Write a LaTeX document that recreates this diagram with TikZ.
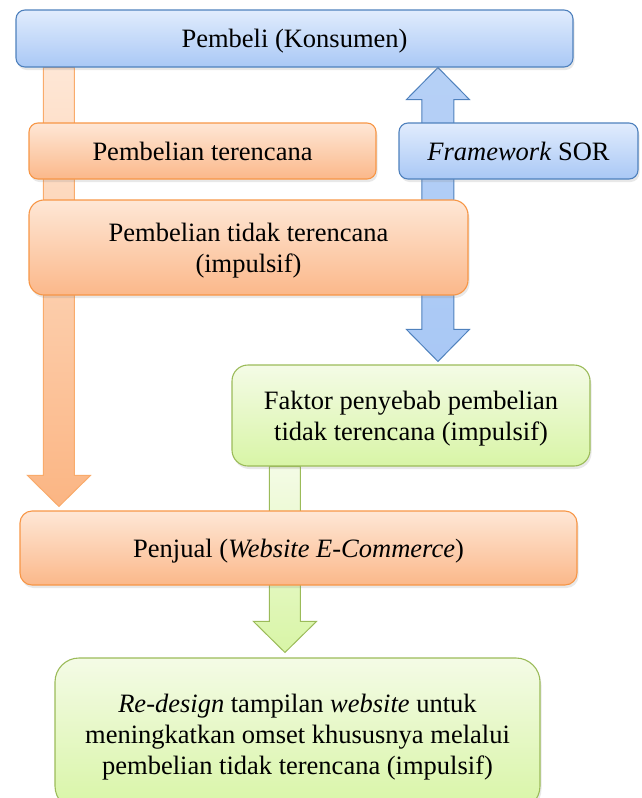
\documentclass[tikz,border=0pt]{standalone}
\usepackage{fontspec}
\setmainfont{Liberation Serif}
\usepackage{xcolor}
\definecolor{BlueTop}{HTML}{E1ECFD}
\definecolor{BlueBot}{HTML}{A9C8F5}
\definecolor{BlueLine}{HTML}{4F81BD}
\definecolor{OrangeTop}{HTML}{FEE7D6}
\definecolor{OrangeBot}{HTML}{FBB88A}
\definecolor{OrangeLine}{HTML}{F79646}
\definecolor{GreenTop}{HTML}{F4FBE6}
\definecolor{GreenBot}{HTML}{D8F5A6}
\definecolor{GreenLine}{HTML}{9BBB59}
\usepackage{tikz}
\usetikzlibrary{calc, shadows, backgrounds}
% block arrow pointing down: style, start, tip
\newcommand{\blockdown}[3]{%
  \path[#1] ($(#2)+(-15.5,0)$) -- ($(#3)+(-15.5,31)$) -- ($(#3)+(-31.5,31)$) -- (#3)
    -- ($(#3)+(31.5,31)$) -- ($(#3)+(15.5,31)$) -- ($(#2)+(15.5,0)$) -- cycle;}

\begin{document}
\begin{tikzpicture}[
    x=1pt, y=1pt,
    box/.style={rounded corners=#1, align=center, line width=1.1pt, text depth=0pt,
      font=\fontsize{26.5}{31}\selectfont,
      drop shadow={opacity=0.18, shadow xshift=1.5pt, shadow yshift=-3pt}},
    bluebox/.style={box=#1, draw=BlueLine, top color=BlueTop, bottom color=BlueBot},
    orangebox/.style={box=#1, draw=OrangeLine, top color=OrangeTop, bottom color=OrangeBot},
    greenbox/.style={box=#1, draw=GreenLine, top color=GreenTop, bottom color=GreenBot},
    orangearr/.style={draw=OrangeLine!80, line width=1pt, top color=OrangeTop, bottom color=OrangeBot!95!orange},
    bluearr/.style={draw=BlueLine, line width=1pt, top color=BlueBot!85, bottom color=BlueBot},
    greenarr/.style={draw=GreenLine, line width=1pt, top color=GreenTop, bottom color=GreenBot}
]
\useasboundingbox (0,0) rectangle (642,-798);
\clip (0,0) rectangle (642,-798);
\node[bluebox=9pt, minimum width=557, minimum height=57] (pembeli) at (294.5,-38.5) {Pembeli (Konsumen)};
\node[orangebox=9pt, minimum width=347, minimum height=56] (terencana) at (202.5,-151) {Pembelian terencana};
\node[bluebox=9pt, minimum width=239, minimum height=56] (sor) at (518.5,-151) {\textit{Framework} SOR};
\node[orangebox=15pt, minimum width=439, minimum height=95] (impulsif) at (248.5,-247.5) {Pembelian tidak terencana\\(impulsif)};
\node[greenbox=16pt, minimum width=358, minimum height=101] (faktor) at (411,-415.5) {Faktor penyebab pembelian\\tidak terencana (impulsif)};
\node[orangebox=12pt, minimum width=557, minimum height=74] (penjual) at (298.5,-548) {Penjual (\textit{Website E-Commerce})};
\node[greenbox=24pt, minimum width=485, minimum height=152] (redesign) at (297.5,-734) {\textit{Re-design} tampilan \textit{website} untuk\\meningkatkan omset khususnya melalui\\pembelian tidak terencana (impulsif)};
\coordinate (o1) at ([xshift=43.5pt]pembeli.south west);
\coordinate (o2) at ([xshift=39.5pt, yshift=4pt]penjual.north west);
\coordinate (b1) at ([xshift=422.5pt]pembeli.south west);
\coordinate (b2) at ([xshift=206.5pt, yshift=3pt]faktor.north west);
\coordinate (g1) at ([xshift=53.5pt]faktor.south west);
\coordinate (g2) at ([xshift=230.5pt, yshift=5pt]redesign.north west);
\begin{scope}[on background layer]
\blockdown{orangearr}{o1}{o2}
\blockdown{greenarr}{g1}{g2}
\path[bluearr] (b1) -- ($(b1)+(31.5,-32)$) -- ($(b1)+(16,-32)$) -- ($(b2)+(16,32)$) -- ($(b2)+(31.5,32)$)
  -- (b2) -- ($(b2)+(-31.5,32)$) -- ($(b2)+(-16,32)$) -- ($(b1)+(-16,-32)$) -- ($(b1)+(-31.5,-32)$) -- cycle;
\end{scope}
\end{tikzpicture}
\end{document}
